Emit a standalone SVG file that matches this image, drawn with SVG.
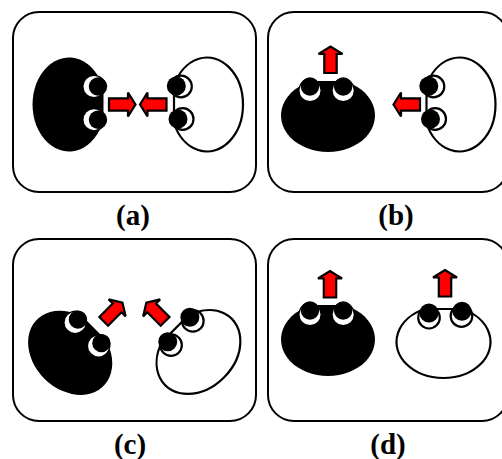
<svg xmlns="http://www.w3.org/2000/svg" width="502" height="459" viewBox="0 0 502 459">
  <style>
    .panel { fill: #fff; stroke: #000; stroke-width: 2; }
    .arrow { fill: #f00; stroke: #000; stroke-width: 2.2; stroke-linejoin: miter; stroke-miterlimit: 2; }
    .label { font-family: "Liberation Serif", "Times New Roman", serif; font-size: 29px; font-weight: bold; text-anchor: middle; fill: #000; }
    .outline { fill: #fff; stroke: #000; stroke-width: 2.2; }
  </style>
  <defs>
    <!-- Solid body, facing +x, centred on the origin -->
    <g id="solid">
      <path d="M34 -15.5 A36.5 47 0 1 0 34 15.5 Z" fill="#000"/>
      <circle cx="25.5" cy="-18" r="11.2" fill="#000"/>
      <circle cx="25.5" cy="15.2" r="11.2" fill="#000"/>
      <circle cx="24.5" cy="-18" r="10.5" fill="#fff"/>
      <circle cx="24.5" cy="15.2" r="10.5" fill="#fff"/>
      <circle cx="28.5" cy="-18" r="9.2" fill="#000"/>
      <circle cx="28.5" cy="15.2" r="9.2" fill="#000"/>
    </g>
    <!-- Hollow body, facing -x, centred on the origin -->
    <g id="hollow">
      <path class="outline" d="M-33 -18.8 A36 47 0 1 1 -33 18.8 Z"/>
      <circle class="outline" cx="-26" cy="-18" r="10.8"/>
      <circle class="outline" cx="-24.3" cy="14.5" r="10.8"/>
      <circle cx="-30.7" cy="-18.5" r="9.5" fill="#000"/>
      <circle cx="-29" cy="14.5" r="9.5" fill="#000"/>
    </g>
    <!-- Block arrow pointing +x from the origin -->
    <polygon id="arrow" class="arrow" points="0,-6.2 19,-6.2 19,-12 26.5,0 19,12 19,6.2 0,6.2"/>
  </defs>

  <g id="panel-a">
    <rect class="panel" x="13" y="12" width="243" height="180" rx="26"/>
    <use href="#solid" transform="translate(69.5 104.5)"/>
    <use href="#hollow" transform="translate(207 104.5)"/>
    <text class="label" x="133" y="225">(a)</text>
  </g>
  <g id="panel-b">
    <rect class="panel" x="268" y="12" width="240" height="180" rx="26"/>
    <use href="#solid" transform="translate(328 115) rotate(-90)"/>
    <use href="#hollow" transform="translate(459.5 104.5)"/>
    <text class="label" x="396" y="225">(b)</text>
  </g>
  <g id="panel-c">
    <rect class="panel" x="13" y="239" width="243" height="182" rx="26"/>
    <use href="#solid" transform="translate(70.5 352.5) rotate(-45)"/>
    <use href="#hollow" transform="translate(198.5 352) rotate(45)"/>
    <text class="label" x="130" y="454">(c)</text>
  </g>
  <g id="panel-d">
    <rect class="panel" x="268" y="239" width="240" height="182" rx="26"/>
    <use href="#solid" transform="translate(328 339) rotate(-90)"/>
    <use href="#hollow" transform="translate(443.5 342) rotate(90)"/>
    <text class="label" x="388" y="454">(d)</text>
  </g>

  <g id="connectors">
    <use href="#arrow" transform="translate(109 104.5)"/>
    <use href="#arrow" transform="translate(166.5 104.5) rotate(180)"/>
    <use href="#arrow" transform="translate(330.5 73) rotate(-90)"/>
    <use href="#arrow" transform="translate(420 104.5) rotate(180)"/>
    <use href="#arrow" transform="translate(103.7 321.3) rotate(-45)"/>
    <use href="#arrow" transform="translate(165.1 321.3) rotate(-135)"/>
    <use href="#arrow" transform="translate(330 297.5) rotate(-90)"/>
    <use href="#arrow" transform="translate(445 296.5) rotate(-90)"/>
  </g>
</svg>
